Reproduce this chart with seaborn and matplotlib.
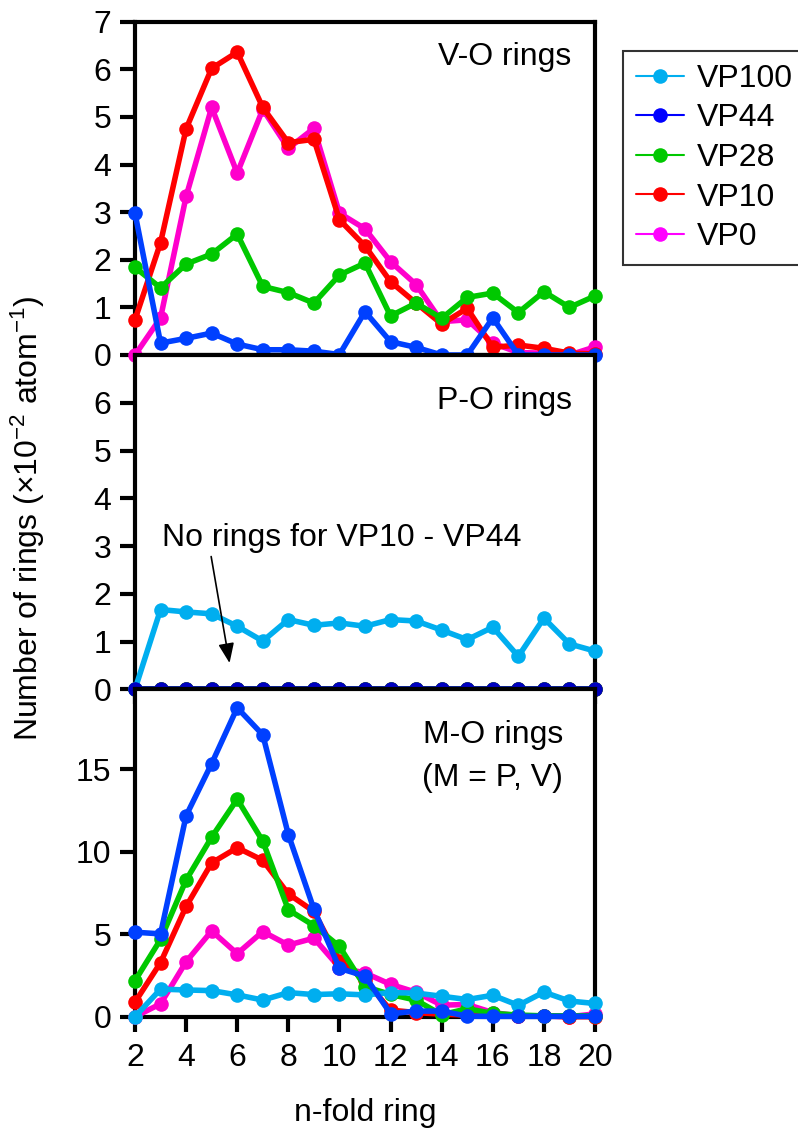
import matplotlib
matplotlib.use("Agg")
import matplotlib.pyplot as plt
import pandas as pd
import seaborn as sns
from matplotlib.lines import Line2D

# ---- data -------------------------------------------------------------
ring_size = [2, 3, 4, 5, 6, 7, 8, 9, 10, 11, 12, 13, 14, 15, 16, 17, 18, 19, 20]

# V-O rings
vo_vp44 = [2.98, 0.25, 0.35, 0.46, 0.23, 0.11, 0.11, 0.08, 0.01, 0.91, 0.28, 0.16, 0.0, 0.0, 0.78, 0.0, 0.0, 0.0, 0.0]
vo_vp28 = [1.84, 1.41, 1.91, 2.12, 2.54, 1.44, 1.31, 1.09, 1.68, 1.93, 0.82, 1.09, 0.77, 1.21, 1.30, 0.89, 1.33, 1.00, 1.24]
vo_vp10 = [0.74, 2.36, 4.75, 6.02, 6.36, 5.20, 4.46, 4.53, 2.84, 2.29, 1.54, 1.09, 0.65, 0.98, 0.16, 0.21, 0.14, 0.04, 0.02]
vo_vp0 = [0.0, 0.78, 3.33, 5.20, 3.82, 5.16, 4.34, 4.76, 2.98, 2.65, 1.96, 1.48, 0.70, 0.74, 0.25, 0.05, 0.04, 0.0, 0.17]

# P-O rings
po_vp100 = [0.0, 1.67, 1.62, 1.58, 1.32, 1.01, 1.46, 1.34, 1.39, 1.32, 1.46, 1.43, 1.24, 1.04, 1.30, 0.69, 1.49, 0.95, 0.80]
po_vp44 = [0.0, 0.0, 0.0, 0.0, 0.0, 0.0, 0.0, 0.0, 0.0, 0.0, 0.0, 0.0, 0.0, 0.0, 0.0, 0.0, 0.0, 0.0, 0.0]
po_vp28 = [0.0, 0.0, 0.0, 0.0, 0.0, 0.0, 0.0, 0.0, 0.0, 0.0, 0.0, 0.0, 0.0, 0.0, 0.0, 0.0, 0.0, 0.0, 0.0]
po_vp10 = [0.0, 0.0, 0.0, 0.0, 0.0, 0.0, 0.0, 0.0, 0.0, 0.0, 0.0, 0.0, 0.0, 0.0, 0.0, 0.0, 0.0, 0.0, 0.0]

# M-O rings (M = P, V)
mo_vp100 = po_vp100
mo_vp44 = [5.12, 5.02, 12.18, 15.34, 18.72, 17.08, 11.04, 6.52, 2.93, 2.46, 0.18, 0.34, 0.34, 0.03, 0.02, 0.02, 0.02, 0.02, 0.02]
mo_vp28 = [2.18, 4.68, 8.28, 10.88, 13.18, 10.64, 6.48, 5.52, 4.26, 1.82, 1.35, 1.00, 0.12, 0.48, 0.20, 0.10, 0.05, 0.05, 0.05]
mo_vp10 = [0.88, 3.28, 6.68, 9.32, 10.24, 9.48, 7.44, 6.38, 3.40, 2.20, 0.40, 0.25, 0.15, 0.10, 0.10, 0.05, 0.05, 0.0, 0.0]
mo_vp0 = vo_vp0

samples = ["VP100", "VP44", "VP28", "VP10", "VP0"]
draw_order = ["VP0", "VP10", "VP28", "VP100", "VP44"]
colors = {"VP100": "#00AEEF", "VP44": "#0040FF", "VP28": "#00C800",
          "VP10": "#FF0000", "VP0": "#FF00CC"}
legend_colors = {"VP100": "#00AEEF", "VP44": "#0000FF", "VP28": "#00C800",
                 "VP10": "#FF0000", "VP0": "#FF00FF"}


def long_frame(series):
    rows = []
    for name, vals in series.items():
        for n, v in zip(ring_size, vals):
            rows.append({"ring": n, "count": v, "sample": name})
    return pd.DataFrame(rows)


vo_df = long_frame({"VP0": vo_vp0, "VP10": vo_vp10, "VP28": vo_vp28, "VP44": vo_vp44})
po_df = long_frame({"VP10": po_vp10, "VP28": po_vp28, "VP100": po_vp100, "VP44": po_vp44})
mo_df = long_frame({"VP0": mo_vp0, "VP10": mo_vp10, "VP28": mo_vp28,
                    "VP100": mo_vp100, "VP44": mo_vp44})

# ---- style ------------------------------------------------------------
sns.set_theme(style="ticks")
plt.rcParams["font.family"] = ["Liberation Sans", "DejaVu Sans"]
plt.rcParams["mathtext.fontset"] = "custom"
plt.rcParams["mathtext.rm"] = "Liberation Sans"
plt.rcParams["mathtext.it"] = "Liberation Sans:italic"
plt.rcParams["axes.linewidth"] = 3.0
for key in ("text.color", "axes.labelcolor", "xtick.color", "ytick.color",
            "axes.edgecolor"):
    plt.rcParams[key] = "black"

FS = 23
W, H = 798, 1128
fig = plt.figure(figsize=(W / 100, H / 100), dpi=100)

x0, x1 = 135, 595
panels = [(21.7, 355.0), (355.0, 689.3), (689.3, 1016.7)]
axes = []
for top, bot in panels:
    axes.append(fig.add_axes([x0 / W, 1 - bot / H, (x1 - x0) / W, (bot - top) / H]))
ax_vo, ax_po, ax_mo = axes

line_kw = dict(x="ring", y="count", hue="sample", marker="o", markersize=10.5,
               markeredgewidth=0, linewidth=4.0, errorbar=None, legend=False,
               clip_on=False, sort=False)

sns.lineplot(data=vo_df, ax=ax_vo,
             hue_order=[s for s in draw_order if s in set(vo_df["sample"])],
             palette=colors, **line_kw)
po_colors = dict(colors)
po_colors["VP44"] = "#0000C0"
sns.lineplot(data=po_df, ax=ax_po,
             hue_order=["VP10", "VP28", "VP100", "VP44"],
             palette=po_colors, **line_kw)
sns.lineplot(data=mo_df, ax=ax_mo, hue_order=draw_order, palette=colors, **line_kw)

# ---- axes -------------------------------------------------------------
for ax in axes:
    ax.set_xlim(2, 20)
    ax.set_xticks(range(2, 21, 2))
    ax.set_xlabel("")
    ax.set_ylabel("")
    for sp in ax.spines.values():
        sp.set_visible(True)
        sp.set_linewidth(3.0)
        sp.set_color("black")
        sp.set_zorder(1)
    ax.tick_params(axis="both", direction="out", length=11, width=3.0,
                   labelsize=FS, colors="black", pad=6)
    ax.tick_params(axis="y", right=False, left=True)
    ax.set_facecolor("white")

ax_vo.set_ylim(0, 7)
ax_vo.set_yticks(range(0, 8))
ax_vo.tick_params(axis="x", bottom=False, labelbottom=False)

ax_po.set_ylim(0, 7)
ax_po.set_yticks(range(0, 7))
ax_po.tick_params(axis="x", bottom=True, labelbottom=False)

ax_mo.set_ylim(0, 19.84)
ax_mo.set_yticks([0, 5, 10, 15])
ax_mo.tick_params(axis="x", bottom=True, labelbottom=True, pad=8)
ax_mo.set_xlabel("n-fold ring", fontsize=FS, labelpad=18)

# ---- panel annotations -------------------------------------------------
ax_vo.text(0.948, 0.895, "V-O rings", transform=ax_vo.transAxes,
           ha="right", va="center", fontsize=FS)
ax_po.text(0.949, 0.861, "P-O rings", transform=ax_po.transAxes,
           ha="right", va="center", fontsize=FS)
ax_mo.text(0.778, 0.86, "M-O rings", transform=ax_mo.transAxes,
           ha="center", va="center", fontsize=FS)
ax_mo.text(0.778, 0.728, "(M = P, V)", transform=ax_mo.transAxes,
           ha="center", va="center", fontsize=FS)

ax_po.text(3.05, 3.17, "No rings for VP10 - VP44", ha="left", va="center", fontsize=FS)
ax_po.annotate("", xy=(5.70, 0.55), xytext=(4.98, 2.78),
               arrowprops=dict(arrowstyle="-|>,head_length=1.0,head_width=0.4",
                               color="black", lw=1.2, shrinkA=0, shrinkB=0))

fig.text(28 / W, 1 - 518 / H, r"Number of rings ($\times$10$^{-2}$ atom$^{-1}$)",
         rotation=90, ha="center", va="center", fontsize=FS)

# ---- legend -------------------------------------------------------------
handles = [Line2D([0], [0], color=legend_colors[s], lw=1.5, marker="o",
                  markersize=10.5, markeredgewidth=0) for s in samples]
leg = fig.legend(handles, samples, loc="upper left",
                 bbox_to_anchor=(623 / W, 1 - 51 / H), borderaxespad=0,
                 fontsize=FS, frameon=True, fancybox=False, handlelength=1.5,
                 handletextpad=0.4, labelspacing=0.3, borderpad=0.4)
leg.get_frame().set_edgecolor("black")
leg.get_frame().set_linewidth(1.5)

fig.savefig("out.png", dpi=100, facecolor="white")
